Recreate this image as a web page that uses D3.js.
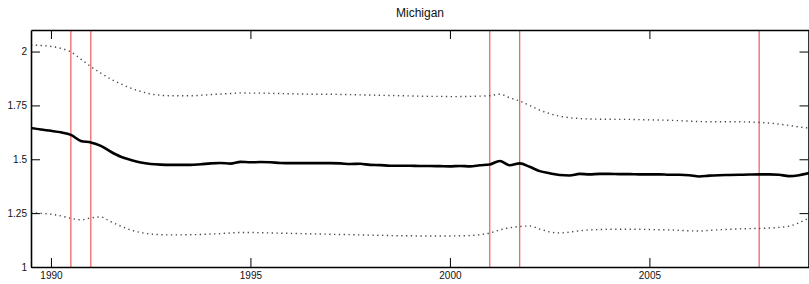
<!DOCTYPE html>
<html>
<head>
<meta charset="utf-8">
<script src="https://cdn.jsdelivr.net/npm/d3@7"></script>
<style>
  body { margin: 0; background: #fff; }
  svg text { font-family: "Liberation Sans", Arial, sans-serif; }
</style>
</head>
<body>
<div id="chart"></div>
<script>
// quarterly values, 1989.5 .. 2009.0
var startYear = 1989.5;

var estimate = [1.645,1.638,1.632,1.625,1.613,1.585,1.578,1.562,1.535,1.512,
  1.497,1.485,1.478,1.475,1.474,1.474,1.474,1.477,1.481,1.483,
  1.480,1.488,1.486,1.487,1.486,1.483,1.482,1.482,1.482,1.482,
  1.482,1.481,1.478,1.479,1.474,1.473,1.470,1.470,1.470,1.469,
  1.469,1.468,1.467,1.469,1.467,1.472,1.476,1.492,1.472,1.481,
  1.465,1.445,1.435,1.427,1.425,1.432,1.430,1.432,1.432,1.431,
  1.431,1.430,1.430,1.430,1.428,1.428,1.426,1.420,1.424,1.426,
  1.427,1.428,1.429,1.430,1.430,1.428,1.422,1.426,1.436];

var upperBand = [2.030,2.028,2.024,2.015,1.998,1.965,1.930,1.900,1.872,1.850,
  1.830,1.815,1.803,1.797,1.795,1.795,1.795,1.797,1.800,1.803,
  1.805,1.808,1.807,1.807,1.806,1.805,1.804,1.803,1.802,1.802,
  1.802,1.801,1.800,1.799,1.798,1.797,1.796,1.795,1.794,1.793,
  1.792,1.792,1.791,1.791,1.792,1.793,1.795,1.802,1.785,1.770,
  1.750,1.728,1.712,1.700,1.693,1.689,1.687,1.686,1.686,1.685,
  1.685,1.684,1.683,1.682,1.681,1.679,1.677,1.675,1.674,1.674,
  1.674,1.674,1.673,1.671,1.668,1.663,1.657,1.650,1.645];

var lowerBand = [1.252,1.249,1.245,1.237,1.226,1.219,1.228,1.232,1.210,1.190,
  1.172,1.160,1.153,1.150,1.149,1.149,1.150,1.151,1.153,1.155,
  1.158,1.160,1.160,1.159,1.158,1.157,1.156,1.155,1.154,1.153,
  1.152,1.151,1.150,1.149,1.148,1.147,1.146,1.145,1.145,1.144,
  1.144,1.144,1.144,1.145,1.146,1.150,1.158,1.172,1.182,1.188,
  1.190,1.176,1.163,1.158,1.162,1.168,1.172,1.174,1.175,1.175,
  1.175,1.175,1.174,1.173,1.172,1.170,1.168,1.167,1.170,1.173,
  1.175,1.177,1.178,1.179,1.181,1.184,1.190,1.205,1.228];

// recession start / end dates
var recessionDates = [1990.5, 1991.0, 2001.0, 2001.75, 2007.75];

var xTicks = [1990, 1995, 2000, 2005];
var yTicks = [1, 1.25, 1.5, 1.75, 2];

var W = 809, H = 284;
var margin = {top: 30, right: 0, bottom: 17, left: 31};

var svg = d3.select("#chart").append("svg")
    .attr("width", W)
    .attr("height", H);

var x = d3.scaleLinear()
    .domain([1989.5, 2009])
    .range([margin.left, W - margin.right]);

var y = d3.scaleLinear()
    .domain([1, 2.1])
    .range([H - margin.bottom, margin.top]);

var t = estimate.map(function(d, i) { return startYear + i * 0.25; });

svg.append("clipPath").attr("id", "clip")
  .append("rect")
    .attr("x", margin.left).attr("y", margin.top)
    .attr("width", W - margin.left - margin.right)
    .attr("height", H - margin.top - margin.bottom);

var plot = svg.append("g").attr("clip-path", "url(#clip)");

var line = d3.line()
    .x(function(d, i) { return x(t[i]); })
    .y(function(d) { return y(d); })
    .curve(d3.curveMonotoneX);

// recession markers
plot.selectAll(".rec")
  .data(recessionDates)
  .enter().append("line")
    .attr("x1", function(d) { return x(d); })
    .attr("x2", function(d) { return x(d); })
    .attr("y1", margin.top)
    .attr("y2", H - margin.bottom)
    .attr("stroke", "#e8393d")
    .attr("stroke-width", 1);

// confidence bands
[upperBand, lowerBand].forEach(function(band) {
  plot.append("path")
    .datum(band)
    .attr("fill", "none")
    .attr("stroke", "#444")
    .attr("stroke-width", 1.4)
    .attr("stroke-dasharray", "1.3,3.5")
    .attr("d", line);
});

plot.append("path")
  .datum(estimate)
  .attr("fill", "none")
  .attr("stroke", "#000")
  .attr("stroke-width", 2.6)
  .attr("stroke-linejoin", "round")
  .attr("d", line);

// axes, ticks inside the box
function styleAxis(g) {
  g.select(".domain").attr("stroke", "#000").attr("stroke-width", 1.6);
  g.selectAll(".tick line").attr("stroke", "#000").attr("stroke-width", 1);
  g.selectAll("text").attr("font-size", 10).attr("fill", "#111");
}

svg.append("g")
  .attr("transform", "translate(0," + (H - margin.bottom) + ")")
  .call(d3.axisBottom(x).tickValues(xTicks).tickSize(-9).tickSizeOuter(0)
    .tickPadding(5).tickFormat(d3.format("d")))
  .call(styleAxis);

svg.append("g")
  .attr("transform", "translate(0," + margin.top + ")")
  .call(d3.axisTop(x).tickValues(xTicks).tickSize(-9).tickSizeOuter(0)
    .tickFormat(""))
  .call(styleAxis);

svg.append("g")
  .attr("transform", "translate(" + margin.left + ",0)")
  .call(d3.axisLeft(y).tickValues(yTicks).tickSize(-9).tickSizeOuter(0)
    .tickPadding(4).tickFormat(function(d) { return d; }))
  .call(styleAxis);

svg.append("g")
  .attr("transform", "translate(" + (W - 0.5) + ",0)")
  .call(d3.axisRight(y).tickValues(yTicks).tickSize(-9).tickSizeOuter(0)
    .tickFormat(""))
  .call(styleAxis);

svg.append("text")
  .attr("x", (margin.left + W - margin.right) / 2)
  .attr("y", 17)
  .attr("text-anchor", "middle")
  .attr("font-size", 12)
  .attr("fill", "#111")
  .text("Michigan");
</script>
</body>
</html>
